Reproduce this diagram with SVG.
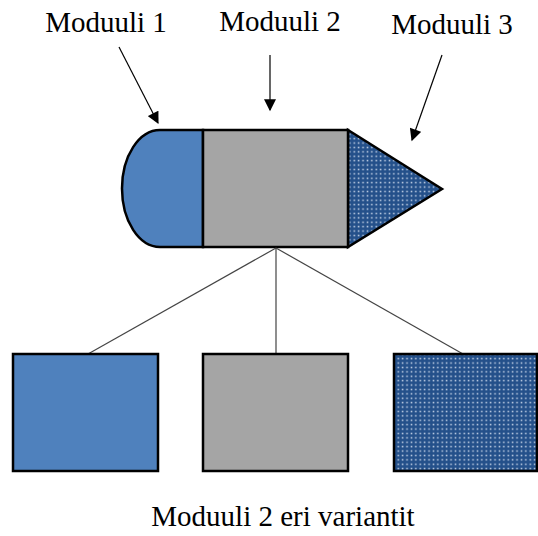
<svg xmlns="http://www.w3.org/2000/svg" width="538" height="536" viewBox="0 0 538 536">
  <style>
    .label { font-family: "Liberation Serif", "Times New Roman", serif; font-size: 29px; fill: #000; text-anchor: middle; }
    .shape { stroke: #000; stroke-width: 2.5; stroke-linejoin: miter; }
    .blue { fill: #4f81bd; }
    .gray { fill: #a5a5a5; }
    .dots { fill: url(#dotGrid); }
    .link { stroke: #444; stroke-width: 1.2; fill: none; }
    .pointer { stroke: #000; stroke-width: 1.2; fill: none; marker-end: url(#head); }
  </style>
  <defs>
    <pattern id="dotGrid" patternUnits="userSpaceOnUse" width="4.4" height="4.4">
      <rect width="4.4" height="4.4" fill="#24508a"/>
      <rect x="1.5" y="1.5" width="1.5" height="1.5" fill="#c8d6ea"/>
    </pattern>
    <marker id="head" viewBox="0 0 10 10" refX="9" refY="5" markerWidth="13" markerHeight="12" markerUnits="userSpaceOnUse" orient="auto">
      <path d="M0,0 L10,5 L0,10 Z" fill="#000"/>
    </marker>
  </defs>

  <!-- headings with pointers -->
  <g id="label-m1">
    <text class="label" x="106" y="32">Moduuli 1</text>
    <line class="pointer" x1="119" y1="47" x2="158" y2="123"/>
  </g>
  <g id="label-m2">
    <text class="label" x="280" y="31">Moduuli 2</text>
    <line class="pointer" x1="270" y1="55" x2="270" y2="110"/>
  </g>
  <g id="label-m3">
    <text class="label" x="452" y="34">Moduuli 3</text>
    <line class="pointer" x1="442" y1="55" x2="412" y2="140"/>
  </g>

  <!-- assembled product -->
  <g id="module-1">
    <path class="shape blue" d="M203,130 H160 A38,58.5 0 0 0 160,247 H203 Z"/>
  </g>
  <g id="module-3">
    <path class="shape dots" d="M348,130 L442,189 L348,247 Z"/>
  </g>
  <g id="module-2">
    <rect class="shape gray" x="203" y="130" width="145" height="117"/>
  </g>

  <!-- connectors from module 2 to its variants -->
  <g id="connectors">
    <line class="link" x1="276" y1="248" x2="88" y2="354"/>
    <line class="link" x1="276" y1="248" x2="276" y2="354"/>
    <line class="link" x1="276" y1="248" x2="463" y2="354"/>
  </g>

  <!-- variants -->
  <g id="variant-a">
    <rect class="shape blue" x="13" y="354" width="145" height="117"/>
  </g>
  <g id="variant-b">
    <rect class="shape gray" x="203" y="354" width="145" height="117"/>
  </g>
  <g id="variant-c">
    <rect class="shape dots" x="394" y="354" width="143" height="117"/>
  </g>

  <g id="caption">
    <text class="label" x="283" y="526">Moduuli 2 eri variantit</text>
  </g>
</svg>
